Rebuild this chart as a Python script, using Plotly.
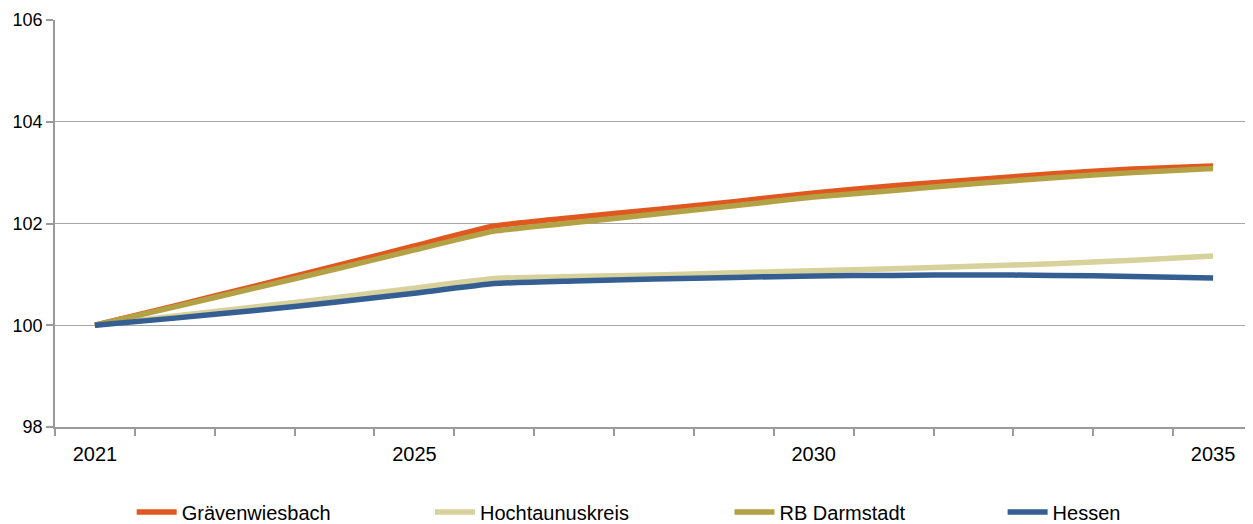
import plotly.graph_objects as go

# Jahre und Indexwerte (2021 = 100)
jahre = list(range(2021, 2036))

graevenwiesbach = [100.00, 100.38, 100.77, 101.16, 101.56, 101.95, 102.12, 102.27,
                   102.43, 102.60, 102.74, 102.86, 102.98, 103.07, 103.13]
hochtaunuskreis = [100.00, 100.18, 100.36, 100.54, 100.73, 100.92, 100.96, 100.99,
                   101.03, 101.07, 101.11, 101.16, 101.21, 101.28, 101.36]
rb_darmstadt = [100.00, 100.36, 100.73, 101.10, 101.48, 101.85, 102.02, 102.18,
                102.35, 102.52, 102.65, 102.78, 102.90, 103.00, 103.08]
hessen = [100.00, 100.14, 100.29, 100.45, 100.63, 100.82, 100.87, 100.91,
          100.94, 100.97, 100.98, 100.99, 100.98, 100.96, 100.93]

x_labels = [2021, 2025, 2030, 2035]
y_ticks = [98, 100, 102, 104, 106]

# Name, Werte, Farbe, Legende, x-Position der Legende (paper)
serien = [
    ("Grävenwiesbach", graevenwiesbach, "#E0581F", "legend", 0.064),
    ("Hochtaunuskreis", hochtaunuskreis, "#D7D19C", "legend2", 0.313),
    ("RB Darmstadt", rb_darmstadt, "#B3A146", "legend3", 0.563),
    ("Hessen", hessen, "#355F93", "legend4", 0.791),
]

schrift = "Liberation Sans Narrow, Arial Narrow, Liberation Sans, Arial, sans-serif"

fig = go.Figure()
legenden = {}
for name, werte, farbe, leg, lx in serien:
    fig.add_trace(go.Scatter(
        x=jahre, y=werte, name=name, mode="lines", legend=leg,
        line=dict(color=farbe, width=5.5, shape="spline", smoothing=0.4),
    ))
    legenden[leg] = dict(
        orientation="h", x=lx, xanchor="left", y=-0.209, yanchor="middle",
        font=dict(size=20), itemwidth=40, bgcolor="rgba(0,0,0,0)",
    )

# Seite hat 8px Rand -> Abmessungen entsprechend kleiner
fig.update_layout(
    width=1245, height=516,
    margin=dict(l=47, r=0, t=12, b=97, autoexpand=False),
    paper_bgcolor="white", plot_bgcolor="white",
    font=dict(family=schrift, size=20, color="black"),
    showlegend=True,
    **legenden,
)

fig.update_xaxes(
    range=[2020.5, 2035.5], automargin=False,
    tickmode="array", tickvals=x_labels, ticks="", ticklabelstandoff=8,
    showgrid=False, zeroline=False,
    showline=True, linecolor="#9A9A9A", linewidth=1.5,
    minor=dict(tick0=2020.5, dtick=1, ticks="outside", ticklen=7,
               tickcolor="#9A9A9A", tickwidth=1.5, showgrid=False),
)
fig.update_yaxes(
    range=[98, 106], automargin=False,
    tickmode="array", tickvals=y_ticks, tickfont=dict(size=18),
    ticks="outside", ticklen=7, tickcolor="#9A9A9A", tickwidth=1.5,
    showgrid=True, gridcolor="#A6A6A6", gridwidth=1.3,
    zeroline=False, showline=True, linecolor="#9A9A9A", linewidth=1.5,
    ticklabelstandoff=0,
)

fig.write_html("out.html")
